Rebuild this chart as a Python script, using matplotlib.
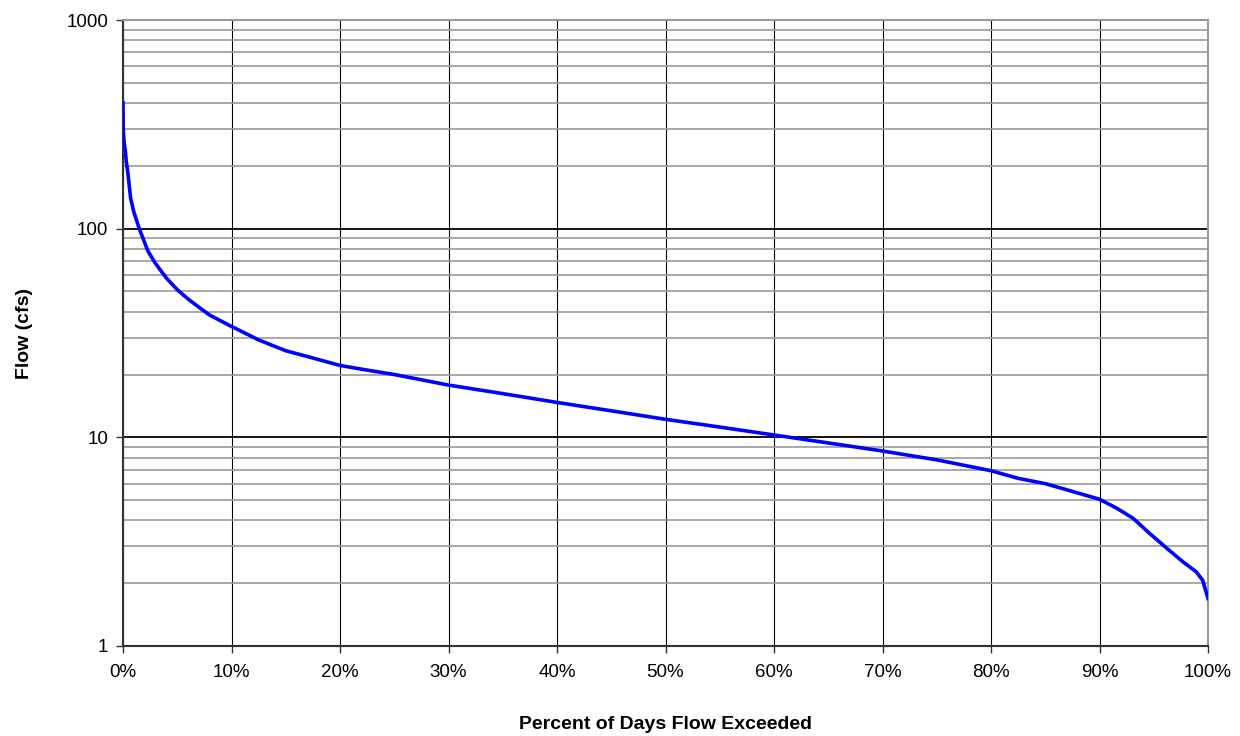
import numpy as np
import matplotlib.pyplot as plt
from matplotlib.ticker import FixedLocator, LogLocator, NullFormatter, FuncFormatter

plt.rcParams['font.family'] = ['Liberation Sans', 'DejaVu Sans']

# flow duration curve: percent of days exceeded vs. flow (cfs)
pct_exceeded = [0.0, 0.02, 0.1, 0.2, 0.3, 0.45, 0.7, 1.0, 1.5, 2.3, 3.0, 4.0,
                5.0, 6.0, 7.0, 8.0, 10.0, 12.5, 15.0, 17.5, 20.0, 22.5, 25.0,
                30.0, 35.0, 40.0, 45.0, 50.0, 55.0, 60.0, 65.0, 70.0, 75.0,
                80.0, 82.5, 85.0, 87.0, 90.0, 91.6, 93.1, 94.6, 96.2, 97.7,
                98.9, 99.5, 100.0]
flow_cfs = [400, 300, 260, 240, 210, 185, 140, 120, 100, 78, 68, 58,
            51, 46, 42, 38.5, 34, 29.3, 26, 24, 22.1, 21, 20,
            17.8, 16.2, 14.7, 13.4, 12.2, 11.2, 10.26, 9.4, 8.6, 7.8,
            6.92, 6.36, 6.0, 5.6, 5.05, 4.57, 4.09, 3.47, 2.94, 2.53,
            2.27, 2.07, 1.69]

x_ticks = [0, 10, 20, 30, 40, 50, 60, 70, 80, 90, 100]
y_ticks = [1, 10, 100, 1000]

fig = plt.figure(figsize=(12.4, 7.36), dpi=100)
ax = fig.add_axes([0.0992, 0.1223, 0.8750, 0.8505])

ax.set_yscale('log')
ax.set_xlim(0, 100)
ax.set_ylim(1, 1000)

ax.xaxis.set_major_locator(FixedLocator(x_ticks))
ax.xaxis.set_major_formatter(FuncFormatter(lambda v, p: f'{v:.0f}%'))
ax.yaxis.set_major_locator(FixedLocator(y_ticks))
ax.yaxis.set_major_formatter(FuncFormatter(lambda v, p: f'{v:.0f}'))
ax.yaxis.set_minor_locator(LogLocator(base=10, subs=np.arange(2, 10)))
ax.yaxis.set_minor_formatter(NullFormatter())

# grid: gray minor lines, black decade lines, thin black verticals
ax.grid(True, which='minor', axis='y', color='#999999', lw=1.2)
ax.grid(True, which='major', axis='y', color='black', lw=1.3)
ax.grid(True, which='major', axis='x', color='black', lw=0.8)
ax.set_axisbelow(True)

ax.plot(pct_exceeded, flow_cfs, color='#0000FF', lw=2.6, zorder=3)

ax.tick_params(axis='both', which='major', direction='out', length=5,
               width=1, labelsize=13.5, color='#333333')
ax.tick_params(axis='y', which='minor', length=0)
ax.tick_params(axis='y', pad=5.5)
ax.tick_params(axis='x', pad=8)

for side in ('top', 'right'):
    ax.spines[side].set_color('#999999')
    ax.spines[side].set_linewidth(1.5)
for side in ('left', 'bottom'):
    ax.spines[side].set_color('#333333')
    ax.spines[side].set_linewidth(1.5)

ax.set_xlabel('Percent of Days Flow Exceeded', fontsize=14, fontweight='bold')
ax.set_ylabel('Flow (cfs)', fontsize=14, fontweight='bold')
ax.xaxis.set_label_coords(0.5, -0.112)
ax.yaxis.set_label_coords(-0.083, 0.5)

fig.savefig('out.png', dpi=100)
